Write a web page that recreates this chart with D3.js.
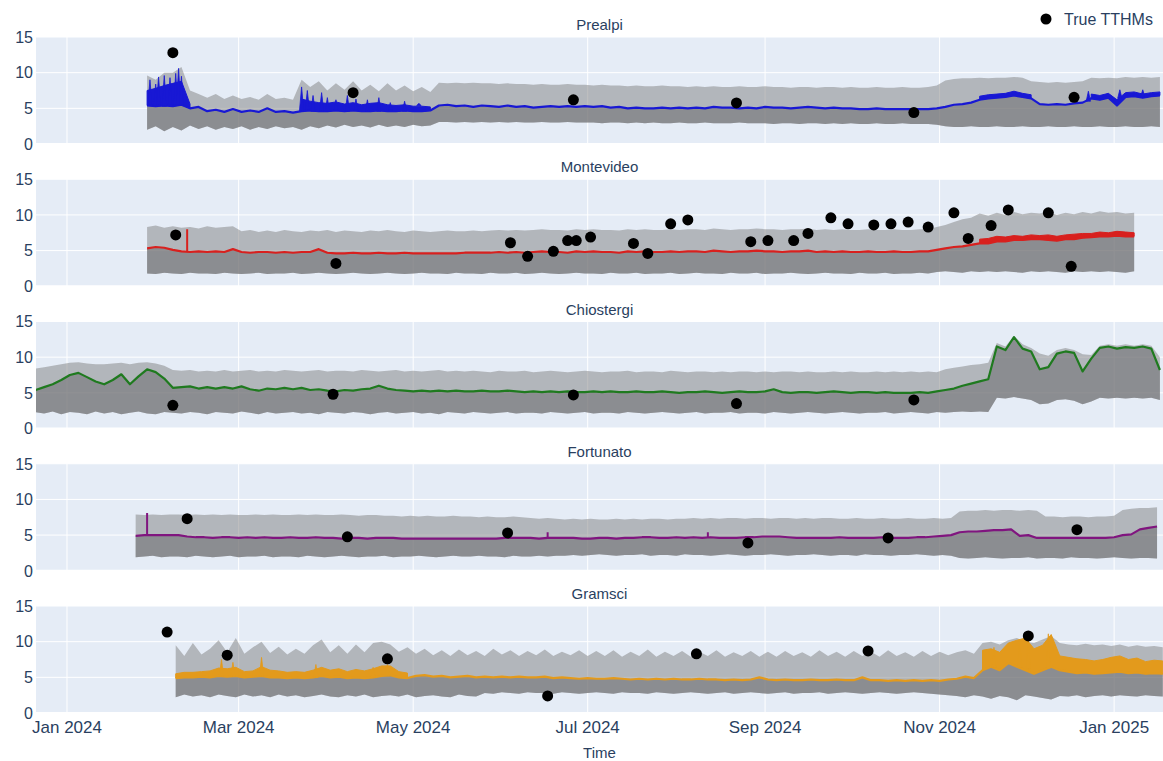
<!DOCTYPE html>
<html>
<head>
<meta charset="utf-8">
<script src="https://cdn.jsdelivr.net/npm/d3@7"></script>
<style>
  html, body { margin: 0; padding: 0; background: #ffffff; }
  svg { display: block; }
  text { font-family: "Liberation Sans", Arial, Helvetica, sans-serif; }
</style>
</head>
<body>
<svg id="chart" width="1163" height="761"></svg>
<script>
// ---------------- data ----------------
const stations = ["Prealpi", "Montevideo", "Chiostergi", "Fortunato", "Gramsci"];
const lineColors = ["#1818d4", "#d8201e", "#1f7a1f", "#80157f", "#e39a1c"];
const yTickValues = [0, 5, 10, 15];
const xTickLabels = ["Jan 2024", "Mar 2024", "May 2024", "Jul 2024", "Sep 2024", "Nov 2024", "Jan 2025"];
const xTickDates = ["2024-01-01", "2024-03-01", "2024-05-01", "2024-07-01", "2024-09-01", "2024-11-01", "2025-01-01"];
const xDomain = ["2023-12-21T04:00", "2025-01-18T02:00"];
const sampleStepDays = 3;

// first sample date of each station's prediction series (samples every 3 days)
const seriesStart = ["2024-01-29", "2024-01-29", "2023-12-21", "2024-01-25", "2024-02-08"];

// Prealpi
const prealpiPred = [
  5.4, 5.3, 5.4, 5.3, 5.5, 5.0, 5.2, 4.6, 4.8, 4.5,
  4.9, 4.5, 4.7, 4.5, 5.0, 4.5, 4.6, 4.4, 4.6, 4.7,
  4.6, 4.6, 4.7, 4.6, 4.7, 4.6, 4.6, 4.7, 4.6, 4.6,
  4.7, 4.6, 4.6, 4.7, 5.4, 5.5, 5.3, 5.4, 5.2, 5.4,
  5.3, 5.2, 5.4, 5.2, 5.3, 5.1, 5.2, 5.3, 5.2, 5.3,
  5.2, 5.3, 5.2, 5.3, 5.1, 5.2, 5.0, 5.1, 5.0, 5.0,
  5.1, 5.0, 5.1, 5.0, 5.1, 5.0, 5.2, 5.1, 5.1, 5.0,
  5.1, 5.0, 5.2, 5.1, 5.1, 5.0, 5.1, 5.2, 5.1, 5.0,
  5.1, 5.0, 5.0, 4.9, 4.9, 5.0, 4.9, 4.9, 4.9, 4.9,
  4.9, 4.9, 5.0, 5.2, 5.5, 5.6, 5.8, 6.2, 6.4, 6.5,
  6.6, 6.8, 6.6, 6.4, 5.6, 5.5, 5.6, 5.5, 5.7, 5.8,
  6.4, 6.2, 6.5, 5.4, 6.6, 6.7, 6.5, 6.7, 6.8
];
const prealpiHi = [
  9.6, 9.0, 10.0, 10.0, 10.8, 7.5, 7.0, 6.5, 7.0, 6.3,
  6.8, 6.3, 6.6, 6.2, 7.0, 6.3, 6.5, 6.2, 9.0, 8.0,
  8.8, 7.5, 8.5, 7.6, 8.8, 7.5, 8.3, 7.4, 8.5, 7.5,
  8.2, 7.4, 8.0, 7.3, 8.6, 8.5, 8.6, 8.5, 8.6, 8.5,
  8.5, 8.4, 8.5, 8.4, 8.4, 8.3, 8.4, 8.3, 8.3, 8.4,
  8.3, 8.3, 8.2, 8.3, 8.2, 8.2, 8.1, 8.2, 8.1, 8.1,
  8.2, 8.1, 8.1, 8.0, 8.1, 8.0, 8.1, 8.0, 8.0, 8.1,
  8.0, 8.0, 8.1, 8.0, 8.0, 7.9, 8.0, 8.0, 7.9, 8.0,
  8.0, 7.9, 8.0, 7.9, 7.9, 8.0, 7.9, 7.9, 8.0, 7.9,
  7.9, 8.0, 8.2, 8.9, 9.1, 9.2, 9.2, 9.3, 9.2, 9.3,
  9.3, 9.4, 9.3, 8.8, 8.7, 8.6, 8.7, 8.6, 8.7, 8.8,
  9.3, 9.2, 9.3, 9.2, 9.4, 9.3, 9.4, 9.3, 9.4
];
const prealpiLo = [
  2.0, 2.5, 1.8, 2.4, 1.9, 2.6, 2.1, 2.5, 2.0, 2.4,
  2.1, 2.5, 2.0, 2.4, 2.1, 2.5, 2.2, 2.4, 2.0, 2.5,
  2.2, 2.6, 2.3, 2.7, 2.4, 2.6, 2.3, 2.7, 2.4, 2.6,
  2.4, 2.7, 2.5, 2.6, 3.1, 3.1, 3.0, 3.1, 3.0, 3.1,
  3.0, 3.1, 3.0, 3.1, 3.0, 3.0, 3.1, 3.0, 3.0, 3.1,
  3.0, 3.0, 3.0, 2.9, 3.0, 3.0, 2.9, 3.0, 2.9, 3.0,
  2.9, 2.9, 3.0, 2.9, 2.9, 3.0, 2.9, 2.9, 2.9, 3.0,
  2.9, 2.9, 2.9, 2.8, 2.9, 2.9, 2.8, 2.9, 2.9, 2.8,
  2.9, 2.8, 2.9, 2.8, 2.8, 2.9, 2.8, 2.8, 2.9, 2.8,
  2.8, 2.8, 2.7, 2.5, 2.4, 2.4, 2.5, 2.4, 2.4, 2.5,
  2.4, 2.4, 2.5, 2.4, 2.4, 2.5, 2.4, 2.4, 2.5, 2.4,
  2.4, 2.5, 2.4, 2.4, 2.5, 2.4, 2.4, 2.5, 2.4
];
// upper edge of the densely oscillating stretches of the prediction
const prealpiBursts = [
  ["2024-01-29", [7.5, 7.8, 8.2, 8.5, 8.8, 5.6]],
  ["2024-03-23", [6.3, 6.0, 5.8, 5.7, 5.9, 5.6, 5.8, 5.5, 5.7, 5.8, 5.5, 5.4, 5.5, 5.3, 5.3, 5.2]],
  ["2024-11-15", [6.7, 6.9, 7.0, 7.1, 7.4, 7.1, 6.9]],
  ["2024-12-24", [7.0, 6.8, 7.1, 6.2, 7.2, 7.3, 7.0, 7.2, 7.3]]
];
// sharp peaks: [date, base, peak]
const prealpiSpikes = [
  ["2024-01-30", 5.4, 9.0], ["2024-02-01", 5.3, 8.4], ["2024-02-02", 5.4, 9.4],
  ["2024-02-04", 5.3, 9.6], ["2024-02-06", 5.4, 9.3], ["2024-02-08", 5.4, 9.9],
  ["2024-02-09", 5.5, 10.6], ["2024-02-10", 5.4, 9.5],
  ["2024-03-23", 4.6, 8.0], ["2024-03-25", 4.7, 7.5], ["2024-03-27", 4.6, 6.8],
  ["2024-03-30", 4.6, 7.2], ["2024-04-01", 4.6, 6.5], ["2024-04-04", 4.7, 6.2],
  ["2024-04-08", 4.6, 6.8], ["2024-04-11", 4.7, 6.3], ["2024-04-15", 4.6, 6.2],
  ["2024-04-19", 4.6, 6.5], ["2024-04-23", 4.7, 5.8], ["2024-04-28", 4.6, 6.0],
  ["2024-05-03", 5.4, 5.7],
  ["2024-12-23", 6.0, 7.4], ["2025-01-03", 6.4, 7.6], ["2025-01-11", 6.6, 7.6]
];
const prealpiObs = [
  ["2024-02-07", 12.8], ["2024-04-10", 7.2], ["2024-06-26", 6.2],
  ["2024-08-22", 5.75], ["2024-10-23", 4.4], ["2024-12-18", 6.55]
];

// Montevideo
const montevideoPred = [
  5.3, 5.5, 5.4, 5.1, 4.9, 4.8, 4.9, 4.8, 4.9, 4.8,
  5.2, 4.8, 4.7, 4.8, 4.8, 4.7, 4.8, 4.7, 4.8, 4.8,
  5.2, 4.7, 4.6, 4.6, 4.7, 4.6, 4.6, 4.7, 4.6, 4.6,
  4.7, 4.6, 4.6, 4.6, 4.6, 4.6, 4.6, 4.7, 4.7, 4.7,
  4.7, 4.8, 4.7, 4.8, 4.7, 4.8, 4.9, 4.8, 4.8, 4.7,
  4.9, 4.8, 4.9, 4.8, 4.8, 4.7, 4.9, 4.8, 4.9, 4.8,
  4.8, 4.9, 4.8, 4.9, 4.9, 4.8, 5.0, 4.9, 4.8, 4.9,
  4.9, 5.0, 4.9, 4.9, 4.8, 4.9, 4.9, 5.0, 4.8, 4.9,
  4.8, 4.9, 4.8, 4.8, 4.9, 4.8, 4.8, 4.9, 4.8, 4.8,
  4.9, 4.9, 5.1, 5.3, 5.5, 5.6, 5.8, 6.0, 6.0, 6.3,
  6.3, 6.5, 6.5, 6.6, 6.6, 6.5, 6.4, 6.6, 6.6, 6.8,
  6.9, 7.0, 7.0, 7.1, 7.0, 7.0
];
const montevideoHi = [
  8.3, 8.5, 8.2, 8.4, 8.2, 8.3, 8.1, 8.4, 8.2, 8.3,
  8.4, 7.7, 7.9, 7.6, 7.8, 7.6, 7.9, 7.7, 7.6, 7.8,
  7.7, 7.9, 7.6, 7.8, 7.7, 7.6, 7.8, 7.7, 7.9, 7.7,
  7.6, 7.8, 7.7, 7.6, 7.7, 7.8, 7.7, 7.7, 7.8, 7.7,
  7.8, 7.9, 7.8, 7.9, 7.8, 7.9, 8.0, 7.9, 7.9, 7.8,
  8.0, 7.9, 8.0, 7.9, 7.9, 7.8, 8.0, 7.9, 8.0, 7.9,
  7.9, 8.0, 7.9, 8.0, 8.0, 7.9, 8.1, 8.0, 7.9, 8.0,
  8.0, 8.1, 8.0, 8.0, 7.9, 8.0, 8.0, 8.1, 7.9, 8.0,
  7.9, 8.0, 7.9, 7.9, 8.0, 7.9, 7.9, 8.0, 7.9, 7.9,
  8.0, 8.0, 8.3, 8.6, 9.0, 9.4, 9.6, 10.2, 9.9, 10.3,
  10.0, 10.4, 10.1, 10.3, 10.2, 10.4, 10.0, 10.3, 10.1, 10.4,
  10.2, 10.5, 10.3, 10.4, 10.2, 10.3
];
const montevideoLo = [
  1.8, 1.7, 1.9, 1.8, 1.7, 1.9, 1.8, 1.8, 1.7, 1.9,
  1.8, 1.7, 1.8, 1.9, 1.7, 1.8, 1.8, 1.9, 1.7, 1.8,
  1.9, 1.8, 1.7, 1.8, 1.9, 1.8, 1.7, 1.8, 1.9, 1.8,
  1.7, 1.8, 1.9, 1.8, 1.8, 1.7, 1.9, 1.8, 1.8, 1.7,
  1.9, 1.8, 1.8, 1.9, 1.7, 1.8, 1.9, 1.8, 1.7, 1.8,
  1.9, 1.8, 1.8, 1.7, 1.9, 1.8, 1.8, 1.9, 1.7, 1.8,
  1.8, 1.9, 1.7, 1.8, 1.9, 1.8, 1.8, 1.7, 1.9, 1.8,
  1.8, 1.9, 1.7, 1.8, 1.8, 1.9, 1.8, 1.7, 1.8, 1.9,
  1.8, 1.8, 1.7, 1.9, 1.8, 1.8, 1.9, 1.7, 1.8, 1.8,
  1.9, 1.8, 2.0, 2.1, 2.0, 1.9, 2.1, 2.0, 2.1, 2.0,
  2.1, 2.0, 1.9, 2.1, 2.0, 2.1, 2.0, 1.9, 2.1, 2.0,
  2.1, 2.0, 2.1, 2.0, 1.9, 2.1
];
const montevideoBursts = [
  ["2024-11-15", [6.6, 6.7, 7.0, 6.9, 7.1, 7.0, 7.2, 7.1, 7.2, 7.0, 7.2, 7.3, 7.4, 7.4, 7.6, 7.5, 7.7, 7.6, 7.5]]
];
const montevideoObs = [
  ["2024-02-08", 7.2], ["2024-04-04", 3.2], ["2024-06-04", 6.1], ["2024-06-10", 4.2],
  ["2024-06-19", 4.9], ["2024-06-24", 6.4], ["2024-06-27", 6.4], ["2024-07-02", 6.9],
  ["2024-07-17", 6.0], ["2024-07-22", 4.6], ["2024-07-30", 8.75], ["2024-08-05", 9.3],
  ["2024-08-27", 6.25], ["2024-09-02", 6.4], ["2024-09-11", 6.4], ["2024-09-16", 7.4],
  ["2024-09-24", 9.6], ["2024-09-30", 8.75], ["2024-10-09", 8.6], ["2024-10-15", 8.75],
  ["2024-10-21", 9.0], ["2024-10-28", 8.3], ["2024-11-06", 10.3], ["2024-11-11", 6.7],
  ["2024-11-19", 8.5], ["2024-11-25", 10.7], ["2024-12-09", 10.3], ["2024-12-17", 2.8]
];
const montevideoSpikes = [["2024-02-12", 4.9, 8.0]];

// Chiostergi
const chiostergiPred = [
  5.4, 5.8, 6.2, 6.8, 7.5, 7.8, 7.2, 6.6, 6.2, 6.8,
  7.6, 6.2, 7.3, 8.3, 7.9, 7.0, 5.7, 5.8, 5.9, 5.6,
  5.8, 5.6, 5.8, 5.6, 5.9, 5.5, 5.3, 5.6, 5.5, 5.7,
  5.5, 5.7, 5.4, 5.5, 5.3, 5.2, 5.4, 5.3, 5.5, 5.6,
  6.0, 5.6, 5.4, 5.3, 5.2, 5.3, 5.2, 5.3, 5.2, 5.3,
  5.2, 5.2, 5.3, 5.2, 5.2, 5.3, 5.2, 5.1, 5.2, 5.1,
  5.2, 5.1, 5.2, 5.1, 5.1, 5.2, 5.1, 5.2, 5.1, 5.1,
  5.2, 5.1, 5.1, 5.2, 5.1, 5.0, 5.1, 5.1, 5.2, 5.1,
  5.0, 5.1, 5.2, 5.1, 5.1, 5.2, 5.5, 5.1, 5.0, 5.1,
  5.1, 5.0, 5.1, 5.2, 5.1, 5.0, 5.1, 5.1, 5.0, 5.1,
  5.0, 5.0, 5.0, 5.1, 5.0, 5.2, 5.4, 5.6, 6.0, 6.3,
  6.6, 6.9, 11.5, 11.0, 12.8, 11.2, 10.8, 8.3, 8.6, 10.5,
  10.8, 10.6, 8.0, 9.8, 11.3, 11.5, 11.2, 11.4, 11.3, 11.5,
  11.2, 8.2
];
const chiostergiHi = [
  8.4, 8.6, 8.8, 9.0, 9.2, 9.3, 9.1, 9.0, 9.0, 9.1,
  9.2, 9.0, 9.2, 9.3, 9.1, 8.8, 8.2, 8.1, 8.2, 8.0,
  8.1, 8.0, 8.2, 8.0, 8.1, 8.2, 8.0, 8.1, 8.0, 8.2,
  8.1, 8.0, 8.1, 8.2, 8.0, 8.1, 8.1, 8.0, 8.2, 8.1,
  8.0, 8.1, 8.2, 8.0, 8.1, 8.0, 8.1, 8.2, 8.0, 8.1,
  8.0, 8.1, 8.0, 7.9, 8.1, 8.0, 8.0, 8.1, 7.9, 8.0,
  8.1, 8.0, 7.9, 8.0, 8.1, 8.0, 7.9, 8.0, 8.0, 8.1,
  7.9, 8.0, 8.0, 7.9, 8.1, 8.0, 7.9, 8.0, 8.0, 7.9,
  8.0, 7.9, 8.0, 8.0, 7.9, 8.0, 7.9, 8.0, 8.0, 7.9,
  8.0, 7.9, 7.9, 8.0, 7.9, 8.0, 7.9, 7.9, 8.0, 7.9,
  8.0, 7.9, 8.0, 7.9, 8.0, 7.9, 8.3, 8.5, 8.7, 8.9,
  9.0, 9.2, 12.0, 11.5, 13.0, 11.8, 11.3, 10.5, 10.2, 11.0,
  11.3, 11.0, 10.4, 10.3, 11.6, 11.8, 11.6, 11.8, 11.6, 11.8,
  11.6, 10.0
];
const chiostergiLo = [
  2.3, 2.1, 2.4, 2.0, 2.3, 2.2, 2.0, 2.4, 2.1, 2.3,
  2.0, 2.2, 2.4, 2.1, 2.0, 2.3, 2.2, 2.1, 2.3, 2.2,
  2.0, 2.3, 2.2, 2.1, 2.4, 2.2, 2.0, 2.3, 2.1, 2.2,
  2.3, 2.1, 2.2, 2.0, 2.3, 2.2, 2.1, 2.3, 2.2, 2.0,
  2.2, 2.3, 2.1, 2.2, 2.3, 2.1, 2.2, 2.0, 2.3, 2.2,
  2.1, 2.3, 2.2, 2.1, 2.2, 2.3, 2.1, 2.2, 2.2, 2.1,
  2.3, 2.2, 2.1, 2.2, 2.3, 2.1, 2.2, 2.2, 2.1, 2.3,
  2.2, 2.1, 2.2, 2.3, 2.2, 2.1, 2.2, 2.3, 2.1, 2.2,
  2.2, 2.3, 2.1, 2.2, 2.2, 2.1, 2.3, 2.2, 2.1, 2.2,
  2.3, 2.2, 2.1, 2.2, 2.3, 2.2, 2.1, 2.2, 2.2, 2.3,
  2.1, 2.2, 2.3, 2.2, 2.1, 2.3, 2.2, 2.3, 2.4, 2.3,
  2.4, 2.3, 4.3, 4.2, 4.4, 4.2, 4.0, 3.4, 3.5, 4.0,
  4.1, 3.9, 3.4, 3.8, 4.3, 4.2, 4.3, 4.2, 4.3, 4.2,
  4.3, 4.0
];
const chiostergiObs = [
  ["2024-02-07", 3.25], ["2024-04-03", 4.8], ["2024-06-26", 4.7],
  ["2024-08-22", 3.5], ["2024-10-23", 4.0]
];

// Fortunato
const fortunatoPred = [
  4.9, 5.0, 5.0, 5.0, 5.0, 5.0, 4.8, 4.7, 4.7, 4.6,
  4.7, 4.7, 4.6, 4.7, 4.6, 4.7, 4.6, 4.6, 4.7, 4.6,
  4.6, 4.7, 4.6, 4.6, 4.5, 4.6, 4.6, 4.5, 4.6, 4.6,
  4.6, 4.5, 4.5, 4.5, 4.5, 4.5, 4.5, 4.5, 4.5, 4.5,
  4.5, 4.5, 4.5, 4.6, 4.6, 4.6, 4.6, 4.5, 4.6, 4.6,
  4.6, 4.6, 4.5, 4.5, 4.6, 4.6, 4.5, 4.6, 4.6, 4.7,
  4.7, 4.6, 4.6, 4.7, 4.6, 4.7, 4.6, 4.7, 4.6, 4.6,
  4.6, 4.7, 4.7, 4.8, 4.8, 4.8, 4.7, 4.6, 4.6, 4.6,
  4.6, 4.6, 4.7, 4.6, 4.6, 4.6, 4.6, 4.7, 4.6, 4.6,
  4.6, 4.7, 4.7, 4.8, 4.9, 5.0, 5.4, 5.5, 5.5, 5.6,
  5.7, 5.7, 5.8, 4.9, 5.0, 4.6, 4.6, 4.6, 4.6, 4.6,
  4.6, 4.6, 4.6, 4.6, 4.7, 5.0, 5.1, 5.8, 6.0, 6.2
];
const fortunatoHi = [
  7.9, 7.8, 7.9, 7.8, 7.9, 7.9, 7.8, 7.9, 7.8, 7.9,
  7.8, 7.9, 7.8, 7.8, 7.9, 7.8, 7.9, 7.8, 7.8, 7.9,
  7.8, 7.9, 7.8, 7.8, 7.9, 7.8, 7.7, 7.8, 7.8, 7.7,
  7.7, 7.6, 7.7, 7.6, 7.7, 7.6, 7.6, 7.7, 7.6, 7.6,
  7.5, 7.6, 7.5, 7.5, 7.6, 7.5, 7.4, 7.3, 7.4, 7.3,
  7.2, 7.3, 7.2, 7.3, 7.2, 7.2, 7.3, 7.2, 7.3, 7.2,
  7.3, 7.3, 7.2, 7.3, 7.3, 7.4, 7.3, 7.4, 7.3, 7.4,
  7.4, 7.3, 7.4, 7.4, 7.3, 7.4, 7.4, 7.3, 7.4, 7.3,
  7.4, 7.4, 7.3, 7.3, 7.4, 7.3, 7.3, 7.4, 7.3, 7.3,
  7.4, 7.3, 7.3, 7.4, 7.3, 7.4, 8.3, 8.4, 8.4, 8.5,
  8.4, 8.5, 8.5, 8.4, 8.5, 8.4, 7.6, 7.6, 7.5, 7.6,
  7.6, 7.5, 7.6, 7.6, 7.7, 8.5, 8.7, 8.8, 8.8, 8.9
];
const fortunatoLo = [
  1.9, 2.0, 2.1, 1.9, 2.0, 2.0, 1.9, 2.1, 2.0, 1.9,
  2.0, 2.1, 1.9, 2.0, 2.0, 2.1, 1.9, 2.0, 2.0, 1.9,
  2.1, 2.0, 1.9, 2.0, 2.1, 2.0, 1.9, 2.0, 2.0, 2.1,
  1.9, 2.0, 2.0, 2.1, 2.0, 1.9, 2.0, 2.1, 2.0, 2.0,
  2.1, 2.0, 2.0, 1.9, 2.1, 2.0, 2.0, 2.1, 2.0, 2.1,
  2.1, 2.2, 2.1, 2.2, 2.3, 2.2, 2.1, 2.2, 2.2, 2.3,
  2.1, 2.2, 2.2, 2.1, 2.3, 2.2, 2.2, 2.1, 2.2, 2.3,
  2.2, 2.1, 2.2, 2.2, 2.3, 2.2, 2.1, 2.2, 2.2, 2.3,
  2.2, 2.1, 2.2, 2.2, 2.1, 2.3, 2.2, 2.2, 2.1, 2.2,
  2.2, 2.3, 2.2, 2.1, 2.2, 2.1, 1.8, 1.7, 1.8, 1.9,
  1.8, 1.7, 1.8, 1.8, 1.9, 1.7, 1.8, 1.8, 1.7, 1.9,
  1.8, 1.8, 1.7, 1.8, 1.9, 1.8, 1.7, 1.8, 1.8, 1.7
];
const fortunatoObs = [
  ["2024-02-12", 7.3], ["2024-04-08", 4.75], ["2024-06-03", 5.3],
  ["2024-08-26", 3.9], ["2024-10-14", 4.6], ["2024-12-19", 5.75]
];
const fortunatoSpikes = [["2024-01-29", 5.0, 8.1], ["2024-06-17", 4.6, 5.4], ["2024-08-12", 4.6, 5.4]];

// Gramsci
const gramsciPred = [
  4.9, 5.0, 5.0, 5.1, 5.0, 5.2, 5.1, 5.2, 5.0, 5.1,
  5.2, 5.0, 5.0, 4.9, 5.0, 4.9, 5.0, 5.2, 5.0, 5.1,
  4.9, 5.0, 4.9, 5.0, 5.2, 5.3, 5.0, 4.9, 5.2, 5.3,
  5.1, 5.2, 5.0, 5.1, 5.2, 5.0, 5.1, 5.0, 5.1, 5.0,
  5.1, 5.0, 5.0, 5.1, 4.9, 5.0, 4.9, 4.8, 4.9, 4.8,
  4.8, 4.9, 4.8, 4.7, 4.8, 4.7, 4.8, 4.7, 4.8, 4.7,
  4.7, 4.8, 4.7, 4.7, 4.6, 4.7, 4.6, 4.7, 5.0, 4.7,
  4.6, 4.7, 4.6, 4.6, 4.7, 4.6, 4.6, 4.7, 4.6, 4.6,
  5.0, 4.6, 4.6, 4.5, 4.6, 4.5, 4.6, 4.5, 4.6, 4.5,
  4.7, 4.8, 5.1, 4.9, 6.0, 6.5, 6.0, 7.0, 6.5, 6.0,
  5.5, 6.0, 6.5, 6.0, 5.8, 5.6, 5.7, 5.5, 5.6, 5.7,
  5.8, 5.6, 5.7, 5.5, 5.6, 5.5
];
const gramsciHi = [
  9.5, 8.0, 9.8, 8.2, 9.0, 10.2, 8.5, 10.5, 8.3, 9.2,
  10.0, 8.4, 9.3, 8.2, 9.0, 8.3, 9.5, 10.3, 8.5, 9.5,
  8.3, 9.6, 8.5, 9.8, 10.0, 9.6, 8.6, 9.2, 8.3, 9.0,
  8.1, 8.8, 8.0, 8.9, 8.1, 8.7, 8.0, 9.0, 8.2, 8.8,
  8.0, 8.7, 8.1, 8.9, 8.0, 8.6, 8.1, 8.8, 8.0, 8.7,
  8.0, 8.8, 7.9, 8.6, 8.0, 8.9, 7.9, 8.6, 8.0, 8.7,
  7.9, 8.6, 8.0, 8.8, 7.9, 8.5, 8.0, 8.7, 7.9, 8.6,
  7.9, 8.7, 8.0, 8.5, 7.9, 8.8, 8.0, 8.6, 7.9, 8.7,
  8.0, 8.6, 7.9, 8.8, 8.0, 8.5, 7.9, 8.7, 8.0, 8.6,
  8.1, 8.5, 8.8, 8.3, 9.8, 10.0, 9.6, 10.2, 10.5, 10.0,
  9.8, 10.3, 10.8, 9.8, 9.6, 9.5, 9.7, 9.5, 9.6, 9.4,
  9.6, 9.3, 9.5, 9.3, 9.4, 9.2
];
const gramsciLo = [
  2.2, 2.6, 2.3, 2.5, 2.2, 2.6, 2.4, 2.2, 2.6, 2.3,
  2.5, 2.2, 2.6, 2.3, 2.5, 2.2, 2.4, 2.6, 2.3, 2.2,
  2.5, 2.3, 2.6, 2.2, 2.4, 2.5, 2.3, 2.6, 2.2, 2.4,
  2.5, 2.3, 2.2, 2.6, 2.4, 2.3, 2.8, 2.7, 2.9, 2.8,
  2.7, 2.9, 2.8, 2.8, 2.7, 2.9, 2.8, 2.7, 2.8, 2.9,
  2.8, 2.7, 2.9, 2.8, 2.8, 2.7, 2.9, 2.8, 2.7, 2.8,
  2.9, 2.8, 2.7, 2.8, 2.9, 2.7, 2.8, 2.9, 2.8, 2.7,
  2.8, 2.9, 2.7, 2.8, 2.8, 2.9, 2.7, 2.8, 2.9, 2.8,
  2.7, 2.8, 2.9, 2.8, 2.7, 2.8, 2.9, 2.8, 2.7, 2.6,
  2.5, 2.4, 2.2, 2.5, 2.3, 2.0, 2.4, 2.2, 1.8, 2.5,
  2.3, 2.1, 1.9, 2.4, 2.3, 2.5, 2.2, 2.4, 2.5, 2.3,
  2.5, 2.4, 2.3, 2.5, 2.4, 2.3
];
const gramsciBursts = [
  ["2024-02-08", [5.5, 5.7, 5.7, 5.8, 5.9, 6.3, 6.2, 6.4, 5.8, 5.9,
                  6.5, 6.0, 5.9, 5.7, 5.8, 5.7, 6.0, 6.4, 6.0, 6.2,
                  5.8, 6.1, 5.9, 6.2, 6.6, 6.6, 5.8, 5.6]],
  ["2024-11-16", [8.8, 9.0, 8.5, 9.8, 10.2, 10.5, 9.0, 9.5, 11.0, 8.0,
                  7.8, 7.6, 7.5, 7.3, 7.5, 7.8, 8.0, 7.5, 7.7, 7.2,
                  7.4, 7.3]]
];
const gramsciSpikes = [
  ["2024-02-24", 5.2, 7.5], ["2024-02-28", 5.2, 7.1], ["2024-03-09", 5.2, 7.8],
  ["2024-03-28", 5.0, 6.8], ["2024-04-17", 5.1, 6.4], ["2024-04-22", 5.2, 6.8],
  ["2024-11-20", 6.5, 9.2], ["2024-11-29", 6.5, 10.2], ["2024-12-02", 6.2, 10.6],
  ["2024-12-09", 6.3, 11.1]
];
const gramsciObs = [
  ["2024-02-05", 11.35], ["2024-02-26", 8.1], ["2024-04-22", 7.6], ["2024-06-17", 2.4],
  ["2024-08-08", 8.3], ["2024-10-07", 8.7], ["2024-12-02", 10.8]
];

const predSeries = [prealpiPred, montevideoPred, chiostergiPred, fortunatoPred, gramsciPred];
const hiSeries = [prealpiHi, montevideoHi, chiostergiHi, fortunatoHi, gramsciHi];
const loSeries = [prealpiLo, montevideoLo, chiostergiLo, fortunatoLo, gramsciLo];
const obsSeries = [prealpiObs, montevideoObs, chiostergiObs, fortunatoObs, gramsciObs];
const burstSeries = [prealpiBursts, montevideoBursts, [], [], gramsciBursts];
const spikeSeries = [prealpiSpikes, montevideoSpikes, [], fortunatoSpikes, gramsciSpikes];
// stations whose spikes are single isolated readings (drawn as hairlines)
const hairlineSpikes = [false, true, false, true, false];

// ---------------- layout ----------------
const W = 1163, H = 761;
const plotLeft = 36, plotRight = 1163;
const firstTop = 37, panelH = 107, panelStep = 142.25;
const bg = "#E5ECF6", gridColor = "#ffffff", textColor = "#2a3f5f";
const bandFill = "rgba(128,128,128,0.5)";
const lowerFill = "rgba(108,108,111,0.55)";
const spikeHalfWidthHours = 18;

const parseDay = d3.timeParse("%Y-%m-%d");
const parseStamp = d3.timeParse("%Y-%m-%dT%H:%M");

const x = d3.scaleTime()
  .domain(xDomain.map(parseStamp))
  .range([plotLeft, plotRight]);

const svg = d3.select("#chart");
const defs = svg.append("defs");

stations.forEach((name, k) => {
  const top = firstTop + k * panelStep;
  const y = d3.scaleLinear().domain([0, 15]).range([top + panelH, top]);
  const g = svg.append("g").attr("class", "panel");

  // plot background
  g.append("rect")
    .attr("x", plotLeft).attr("y", top)
    .attr("width", plotRight - plotLeft).attr("height", panelH)
    .attr("fill", bg);

  // vertical grid at month ticks
  g.append("g")
    .selectAll("line")
    .data(xTickDates.map(parseDay))
    .join("line")
    .attr("x1", d => x(d)).attr("x2", d => x(d))
    .attr("y1", top).attr("y2", top + panelH)
    .attr("stroke", gridColor).attr("stroke-width", 1);

  // horizontal grid
  g.append("g")
    .selectAll("line")
    .data(yTickValues)
    .join("line")
    .attr("x1", plotLeft).attr("x2", plotRight)
    .attr("y1", d => y(d)).attr("y2", d => y(d))
    .attr("stroke", gridColor).attr("stroke-width", d => d === 0 ? 2 : 1);

  // y tick labels
  g.append("g")
    .selectAll("text")
    .data(yTickValues)
    .join("text")
    .attr("x", plotLeft - 3).attr("y", d => y(d))
    .attr("dy", "0.36em")
    .attr("text-anchor", "end")
    .attr("font-size", 16)
    .attr("fill", textColor)
    .text(d => d);

  // subplot title
  g.append("text")
    .attr("x", (plotLeft + plotRight) / 2).attr("y", top - 7)
    .attr("text-anchor", "middle")
    .attr("font-size", 15)
    .attr("fill", textColor)
    .text(name);

  // clip region for data marks
  const clipId = "clip" + k;
  defs.append("clipPath").attr("id", clipId)
    .append("rect")
    .attr("x", plotLeft).attr("y", top)
    .attr("width", plotRight - plotLeft).attr("height", panelH);
  const data = g.append("g").attr("clip-path", `url(#${clipId})`);

  const t0 = parseDay(seriesStart[k]);
  const pred = predSeries[k], hi = hiSeries[k], lo = loSeries[k];
  const n = Math.min(pred.length, hi.length, lo.length);
  const rows = d3.range(n).map(i => ({
    date: d3.timeDay.offset(t0, i * sampleStepDays),
    pred: pred[i], hi: hi[i], lo: lo[i]
  }));

  // prediction interval (lower..upper)
  data.append("path")
    .datum(rows)
    .attr("fill", bandFill)
    .attr("d", d3.area().x(d => x(d.date)).y0(d => y(d.lo)).y1(d => y(d.hi)));

  // lower part of the interval up to the prediction
  data.append("path")
    .datum(rows)
    .attr("fill", lowerFill)
    .attr("d", d3.area().x(d => x(d.date)).y0(d => y(d.lo)).y1(d => y(d.pred)));

  // stretches where the prediction oscillates densely: fill its swing
  burstSeries[k].forEach(([start, tops]) => {
    const off = Math.round(d3.timeDay.count(t0, parseDay(start)) / sampleStepDays);
    const seg = tops.map((v, j) => ({ date: rows[off + j].date, base: rows[off + j].pred, top: v }));
    data.append("path")
      .datum(seg)
      .attr("fill", lineColors[k])
      .attr("stroke", lineColors[k])
      .attr("stroke-width", 1)
      .attr("stroke-linejoin", "round")
      .attr("d", d3.area().x(d => x(d.date)).y0(d => y(d.base)).y1(d => y(d.top)));
  });

  // predicted TTHMs
  data.append("path")
    .datum(rows)
    .attr("fill", "none")
    .attr("stroke", lineColors[k])
    .attr("stroke-width", 2.2)
    .attr("stroke-linejoin", "round")
    .attr("d", d3.line().x(d => x(d.date)).y(d => y(d.pred)));

  // sharp peaks in the prediction
  if (hairlineSpikes[k]) {
    data.append("g")
      .selectAll("line")
      .data(spikeSeries[k])
      .join("line")
      .attr("x1", d => x(parseDay(d[0]))).attr("x2", d => x(parseDay(d[0])))
      .attr("y1", d => y(d[1])).attr("y2", d => y(d[2]))
      .attr("stroke", lineColors[k]).attr("stroke-width", 2);
  } else {
    const peak = d3.area().x(p => x(p.t)).y0(p => y(p.b)).y1(p => y(p.v));
    data.append("g")
      .selectAll("path")
      .data(spikeSeries[k])
      .join("path")
      .attr("fill", lineColors[k])
      .attr("stroke", lineColors[k])
      .attr("stroke-width", 0.8)
      .attr("stroke-linejoin", "round")
      .attr("d", d => {
        const t = parseDay(d[0]);
        return peak([
          { t: d3.timeHour.offset(t, -spikeHalfWidthHours), b: d[1], v: d[1] },
          { t: t, b: d[1], v: d[2] },
          { t: d3.timeHour.offset(t, spikeHalfWidthHours), b: d[1], v: d[1] }
        ]);
      });
  }

  // measured TTHMs
  data.append("g")
    .selectAll("circle")
    .data(obsSeries[k])
    .join("circle")
    .attr("cx", d => x(parseDay(d[0])))
    .attr("cy", d => y(d[1]))
    .attr("r", 5.5)
    .attr("fill", "#000000");
});

// shared x axis labels under the last panel
const lastBottom = firstTop + 4 * panelStep + panelH;
svg.append("g")
  .selectAll("text")
  .data(xTickDates)
  .join("text")
  .attr("x", d => x(parseDay(d)))
  .attr("y", lastBottom + 20)
  .attr("text-anchor", "middle")
  .attr("font-size", 17)
  .attr("fill", textColor)
  .text((d, i) => xTickLabels[i]);

svg.append("text")
  .attr("x", (plotLeft + plotRight) / 2)
  .attr("y", lastBottom + 45)
  .attr("text-anchor", "middle")
  .attr("font-size", 15)
  .attr("fill", textColor)
  .text("Time");

// legend
const legend = svg.append("g");
legend.append("circle").attr("cx", 1046).attr("cy", 19).attr("r", 5.5).attr("fill", "#000000");
legend.append("text")
  .attr("x", 1064).attr("y", 25)
  .attr("font-size", 16)
  .attr("fill", textColor)
  .text("True TTHMs");
</script>
</body>
</html>
